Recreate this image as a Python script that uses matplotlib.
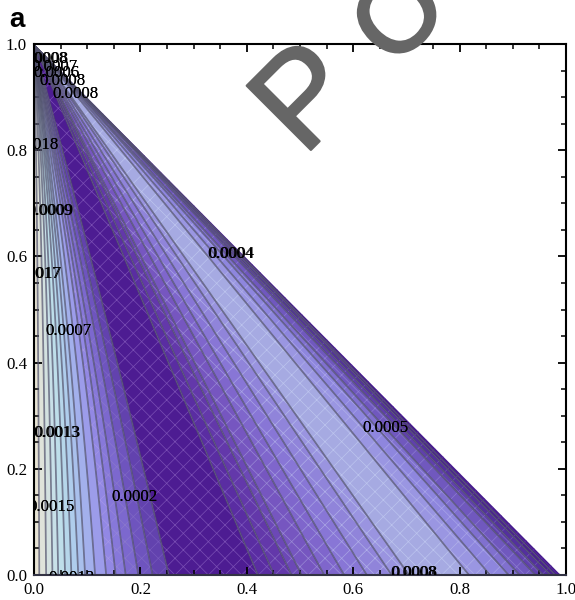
import numpy as np
import matplotlib
matplotlib.use('Agg')
import matplotlib.pyplot as plt
from matplotlib.patches import Polygon
from matplotlib.ticker import MultipleLocator
import matplotlib.patheffects as pe

# fan-shaped field: contour positions along the lower edge (ratio x / (x_end*(1-y)))
contour_ratio = [0.0, 0.010, 0.023, 0.035, 0.046, 0.059, 0.071, 0.084, 0.097, 0.116, 0.137, 0.155,
                 0.174, 0.198, 0.225, 0.256, 0.425, 0.456, 0.489, 0.508, 0.551, 0.589, 0.632, 0.679, 0.712,
                 0.826, 0.866, 0.901, 0.922, 0.952, 0.967, 0.981, 0.990, 1.0]
band_colors = ['#e8e4d4', '#dfe3da', '#d3e1e0', '#c8e0e8', '#bedeea', '#b6d6ea', '#afcdec', '#a9c0ec', '#a3b0ec',
               '#9c9cea', '#9288e4', '#8778da', '#7c68ce', '#6e54be', '#6242ae', '#4d1c92', '#5a2da2',
               '#6338aa', '#6c48b6', '#7656c0', '#7f66cc', '#8876d6', '#9084da', '#9a94e0', '#a6aae2',
               '#9a96e2', '#8e86de', '#8070cf', '#7058be', '#6040ac', '#54309e', '#4a2092', '#451a8c']
hatch_style = [None]*10 + ['xx']*23
hatch_edge = ['none']*10 + ['#a596e6', '#9585d8', '#8a78cc', '#7f68c4', '#7658bc', '#7a4fb4', '#7c58bc',
              '#8468c0', '#8e78ca', '#9888d4', '#a098dc', '#a8a4e4', '#b0b0e8', '#b6bcea', '#bcc4ee',
              '#b0b0e8', '#a8a4e8', '#9c92e0', '#8c7cd0', '#7c68c0', '#7058b4', '#6840a8', '#5a2ca0']
x_end = 0.99

labels_text = ['0.0008', '0.0007', '0.0006', '0.0008', '0.0008', '0.0018', '0.0009', '0.0017', '0.0007',
               '0.0013', '0.0015', '0.0012', '0.0002', '0.0004', '0.0005', '0.0008']
labels_x = [0.020, 0.038, 0.042, 0.053, 0.077, 0.002, 0.030, 0.007, 0.064, 0.043, 0.032, 0.070, 0.188, 0.370, 0.660, 0.713]
labels_y = [0.972, 0.957, 0.945, 0.930, 0.905, 0.809, 0.685, 0.566, 0.459, 0.267, 0.128, -0.005, 0.147, 0.604, 0.277, 0.004]
x_ticks = [0.0, 0.2, 0.4, 0.6, 0.8, 1.0]

plt.rcParams['font.family'] = ['Liberation Serif', 'DejaVu Serif']
plt.rcParams['hatch.linewidth'] = 0.5
fig = plt.figure(figsize=(5.75, 6), dpi=100)
ax = fig.add_axes([34/575, 1-575/600, 532/575, 531/600])

xs = np.linspace(0, 1, 400)
ys = np.linspace(0, 0.998, 400)
X, Y = np.meshgrid(xs, ys)
t = np.minimum(X / (x_end * (1 - Y)), 1.0)
T = t * (1 - 0.6 * Y * np.exp(-(t / 0.18) ** 2))

tri = Polygon([(0, 0), (x_end, 0), (0, 1)], closed=True, transform=ax.transData, fc='none', ec='none')
ax.add_patch(tri)
f1 = ax.contourf(X, Y, T, levels=contour_ratio, colors=band_colors, antialiased=True)
h = ax.contourf(X, Y, T, levels=contour_ratio, colors='none', hatches=hatch_style)
h.set_edgecolor(hatch_edge)
h.set_linewidth(0)
c = ax.contour(X, Y, T, levels=contour_ratio[1:-1], colors='#50506a', linewidths=1.25, alpha=0.7)
for art in (f1, h, c):
    art.set_clip_path(tri)

for s, x, y in zip(labels_text, labels_x, labels_y):
    for dx in (0, 0.0012):
        ax.text(x + dx, y, s, ha='center', va='center', fontsize=12.2, color='black', clip_on=True, zorder=5)

ax.set_xlim(0, 1)
ax.set_ylim(0, 1)
ax.set_xticks(x_ticks)
ax.set_yticks(x_ticks)
ax.xaxis.set_minor_locator(MultipleLocator(0.05))
ax.yaxis.set_minor_locator(MultipleLocator(0.05))
ax.tick_params(which='major', direction='in', length=6, width=1.3, top=True, right=True, labelsize=12.2, pad=5, color='black')
ax.tick_params(which='minor', direction='in', length=3.5, width=1.1, top=True, right=True)
for s in ax.spines.values():
    s.set_linewidth(1.5)
ax.spines['bottom'].set_color('#333344')

fig.text(9/575, 1-20/600, 'a', fontsize=20, fontweight='bold', family='Liberation Sans', ha='left', va='center')
fx = [pe.withStroke(linewidth=1.6, foreground='#666666')]
fig.text(310/575, 1-102/600, 'P', fontsize=95, rotation=45, family='Liberation Sans', color='#666666', ha='center', va='center', zorder=10, path_effects=fx)
fig.text(403/575, 1-20/600, 'O', fontsize=76, rotation=45, family='Liberation Sans', color='#666666', ha='center', va='center', zorder=10, path_effects=[pe.withStroke(linewidth=2.5, foreground='#666666')])

fig.savefig('out.png', dpi=100)
